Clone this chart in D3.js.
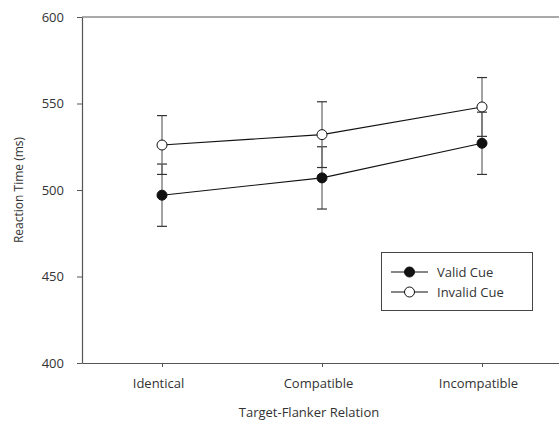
<!DOCTYPE html>
<html>
<head>
<meta charset="utf-8">
<script src="https://cdn.jsdelivr.net/npm/d3@7"></script>
<style>
  html, body { margin: 0; padding: 0; background: #fff; }
  svg { display: block; font-family: "Open Sans", sans-serif; }
</style>
</head>
<body>
<svg id="chart" width="559" height="423"></svg>
<script>
const categories = ["Identical", "Compatible", "Incompatible"];
const seriesNames = ["Valid Cue", "Invalid Cue"];
const validMeans = [497, 507, 527];
const validErr = [18, 18, 18];
const invalidMeans = [526, 532, 548];
const invalidErr = [17, 19, 17];
const yTicks = [400, 450, 500, 550, 600];

const svg = d3.select("#chart");
const plotLeft = 82, plotRight = 562, plotTop = 17, plotBottom = 363;

const x = d3.scalePoint().domain(categories).range([plotLeft, plotRight]).padding(0.5);
const y = d3.scaleLinear().domain([400, 600]).range([plotBottom, plotTop]);

const textColor = "#333";
const axisColor = "#555";

// top frame line
svg.append("line").attr("x1", plotLeft).attr("x2", plotRight).attr("y1", y(600)).attr("y2", y(600))
  .attr("stroke", axisColor).attr("stroke-width", 1);

// y axis
const yAxis = svg.append("g").attr("transform", `translate(${plotLeft},0)`)
  .call(d3.axisLeft(y).tickValues(yTicks).tickSize(5).tickPadding(13).tickSizeOuter(0));
// x axis
const xAxis = svg.append("g").attr("transform", `translate(0,${plotBottom})`)
  .call(d3.axisBottom(x).tickSize(4).tickPadding(12).tickSizeOuter(0));

[yAxis, xAxis].forEach(g => {
  g.select(".domain").attr("stroke", axisColor).attr("stroke-width", 1.2);
  g.selectAll(".tick line").attr("stroke", axisColor);
  g.selectAll(".tick text").attr("fill", textColor).style("font-size", "13px")
    .style("font-family", "'Open Sans', sans-serif");
});
xAxis.selectAll(".tick text").attr("dx", -4);

// axis titles
svg.append("text").attr("transform", `translate(23,190) rotate(-90)`)
  .attr("text-anchor", "middle").attr("fill", textColor).style("font-size", "12px")
  .text("Reaction Time (ms)");
svg.append("text").attr("x", 309).attr("y", 417)
  .attr("text-anchor", "middle").attr("fill", textColor).style("font-size", "13px")
  .text("Target-Flanker Relation");

const series = [
  { name: seriesNames[0], means: validMeans, err: validErr, fill: "#111" },
  { name: seriesNames[1], means: invalidMeans, err: invalidErr, fill: "#fff" }
];

const capW = 5;
// error bars
series.forEach(s => {
  const g = svg.append("g");
  categories.forEach((c, i) => {
    const cx = x(c), hi = y(s.means[i] + s.err[i]), lo = y(s.means[i] - s.err[i]);
    g.append("line").attr("x1", cx).attr("x2", cx).attr("y1", hi).attr("y2", lo)
      .attr("stroke", "#666").attr("stroke-width", 1.2);
    [hi, lo].forEach(yy => g.append("line").attr("x1", cx - capW).attr("x2", cx + capW)
      .attr("y1", yy).attr("y2", yy).attr("stroke", "#333").attr("stroke-width", 1.2));
  });
});

// lines and markers
const line = d3.line().x((d, i) => x(categories[i])).y(d => y(d));
series.forEach(s => {
  svg.append("path").datum(s.means).attr("d", line)
    .attr("fill", "none").attr("stroke", "#111").attr("stroke-width", 1.1);
});
series.forEach(s => {
  svg.selectAll(null).data(s.means).enter().append("circle")
    .attr("cx", (d, i) => x(categories[i])).attr("cy", d => y(d)).attr("r", 5)
    .attr("fill", s.fill).attr("stroke", "#111").attr("stroke-width", 1);
});

// legend
const lg = svg.append("g");
lg.append("rect").attr("x", 381.5).attr("y", 252.5).attr("width", 151).attr("height", 58)
  .attr("fill", "#fff").attr("stroke", "#444").attr("stroke-width", 1);
series.forEach((s, i) => {
  const yy = 272 + i * 20;
  lg.append("line").attr("x1", 391).attr("x2", 428).attr("y1", yy).attr("y2", yy)
    .attr("stroke", "#111").attr("stroke-width", 1.1);
  lg.append("circle").attr("cx", 409.5).attr("cy", yy).attr("r", 5)
    .attr("fill", s.fill).attr("stroke", "#111");
  lg.append("text").attr("x", 437).attr("y", yy + 4.5).attr("fill", textColor)
    .style("font-size", "13px").text(s.name);
});
</script>
</body>
</html>
